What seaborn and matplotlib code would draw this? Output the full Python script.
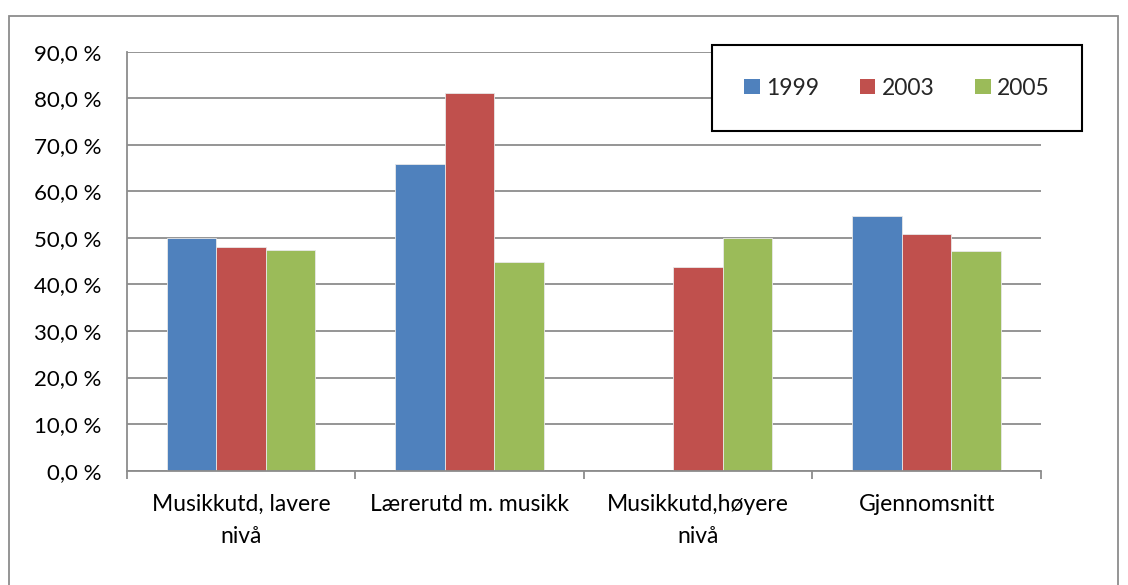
import numpy as np
import pandas as pd
import matplotlib
matplotlib.use("Agg")
import matplotlib.pyplot as plt
import seaborn as sns
from matplotlib.patches import Patch, Rectangle
from matplotlib.ticker import FuncFormatter, FixedLocator

# *******************Data
categories = ["Musikkutd, lavere\nnivå", "Lærerutd m. musikk",
              "Musikkutd,høyere\nnivå", "Gjennomsnitt"]
years = ["1999", "2003", "2005"]
vals_1999 = [50.0, 65.8, np.nan, 54.8]
vals_2003 = [48.0, 81.2, 43.7, 50.8]
vals_2005 = [47.3, 44.8, 49.9, 47.1]
colors = ["#4F81BD", "#C0504D", "#9BBB59"]

df = pd.DataFrame({
    "Kategori": categories * 3,
    "År": [y for y in years for _ in categories],
    "Andel": vals_1999 + vals_2003 + vals_2005,
})

# *******************Figure
sns.set_style("white")
plt.rcParams["font.family"] = ["Lato", "DejaVu Sans"]

fig = plt.figure(figsize=(11.28, 5.85), dpi=100)
ax = fig.add_axes([126.7 / 1128, 1 - 470.7 / 585, (1041 - 126.7) / 1128, (470.7 - 51.7) / 585])

sns.barplot(data=df, x="Kategori", y="Andel", hue="År", order=categories,
            hue_order=years, palette=colors, width=0.65, errorbar=None,
            saturation=1, ax=ax, legend=False, linewidth=0.6, edgecolor="#e8e8e8")

ax.set_ylim(0, 90)
ax.set_xlim(-0.5, 3.5)
ax.set_yticks(np.arange(0, 91, 10))
ax.yaxis.set_major_formatter(FuncFormatter(lambda v, p: f"{v:.1f} %".replace(".", ",")))
ax.grid(axis="y", color="#8c8c8c", linewidth=1.3)
ax.set_axisbelow(True)
ax.set_xlabel("")
ax.set_ylabel("")

for s in ["top", "right"]:
    ax.spines[s].set_visible(False)
for s in ["left", "bottom"]:
    ax.spines[s].set_color("#8c8c8c")
    ax.spines[s].set_linewidth(1.3)

ax.tick_params(axis="y", length=6.5, width=1.3, color="#8c8c8c", pad=12, labelsize=16, labelcolor="black")
ax.tick_params(axis="x", which="major", length=0, pad=17, labelsize=16.5, labelcolor="black")
ax.xaxis.set_minor_locator(FixedLocator([-0.5, 0.5, 1.5, 2.5, 3.5]))
ax.tick_params(axis="x", which="minor", length=6, width=1.3, color="#8c8c8c", bottom=True)
for lbl in ax.get_xticklabels():
    lbl.set_linespacing(1.6)
    lbl.set_verticalalignment("top")

# *******************Legend
handles = [Patch(facecolor=c, edgecolor="none") for c in colors]
leg = fig.legend(handles, years, loc="upper right", bbox_to_anchor=(1082 / 1128, 1 - 45 / 585),
                 ncol=3, fontsize=16.5, frameon=True, fancybox=False, shadow=False,
                 handlelength=0.68, handleheight=0.68, handletextpad=0.27,
                 columnspacing=1.78, borderpad=1.42, borderaxespad=0)
leg.get_frame().set_edgecolor("black")
leg.get_frame().set_linewidth(1.5)
leg.get_frame().set_alpha(1)

# *******************Outer chart border
fig.patches.append(Rectangle((9 / 1128, -0.05), (1118 - 9) / 1128, 1.05 - 16 / 585,
                             transform=fig.transFigure, fill=False,
                             edgecolor="#8c8c8c", linewidth=1.3))

plt.savefig("out.png", dpi=100)
